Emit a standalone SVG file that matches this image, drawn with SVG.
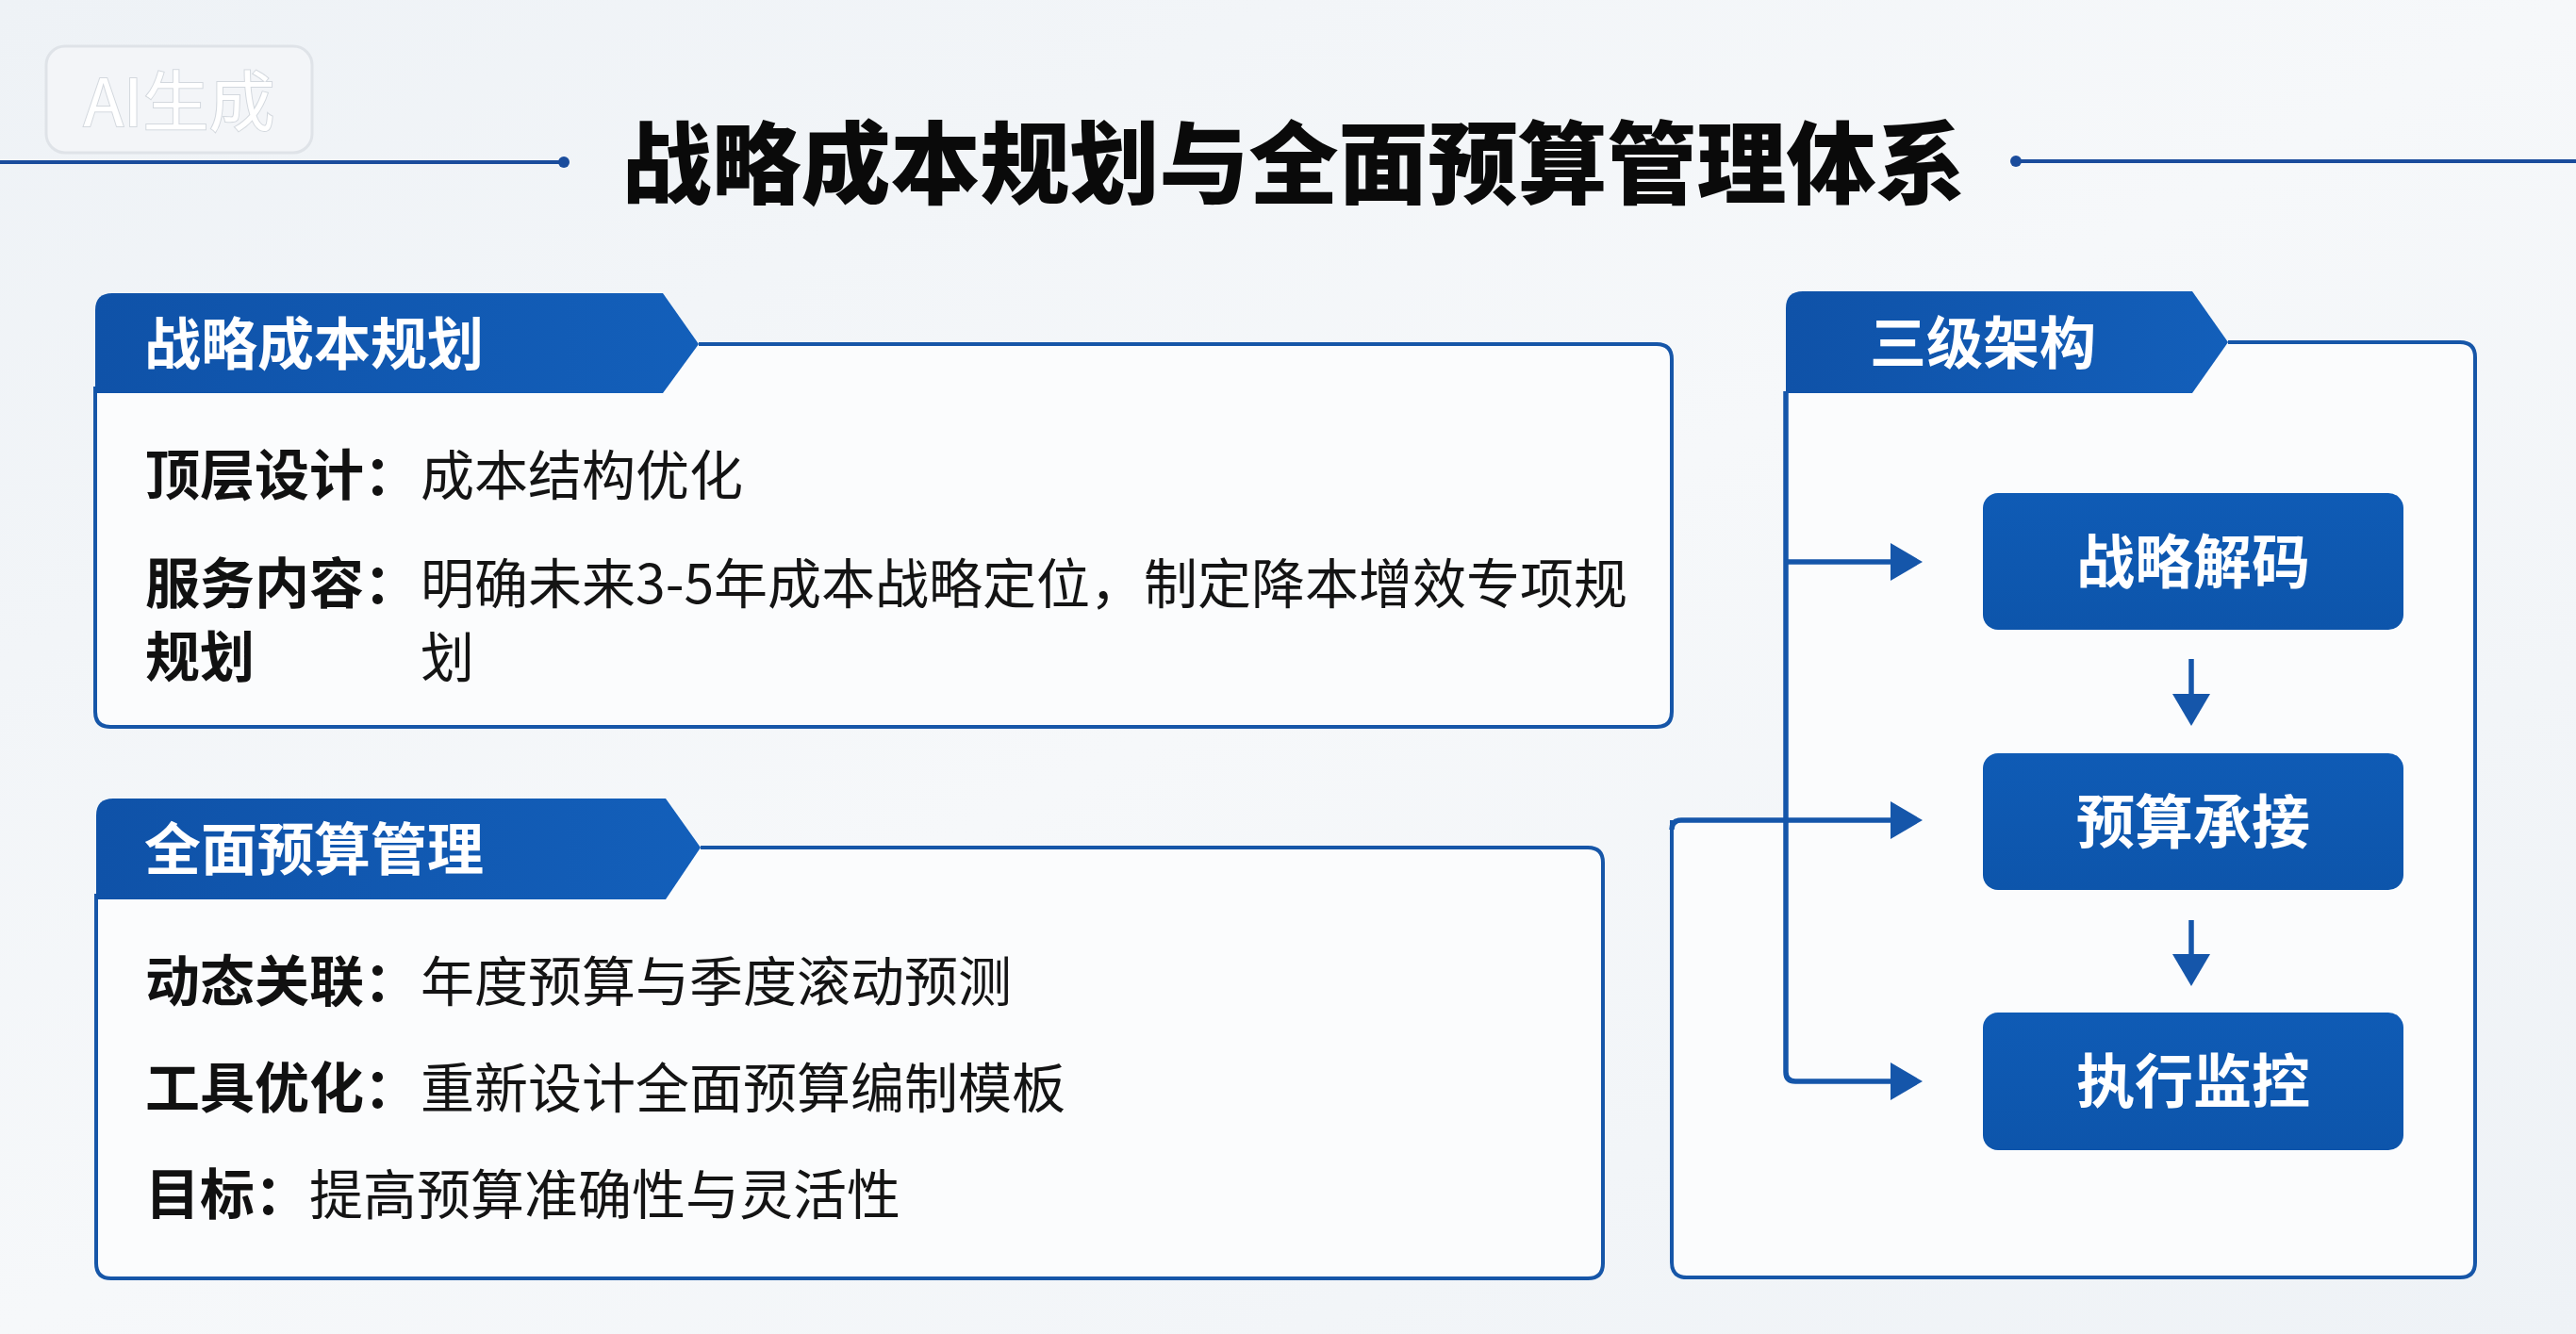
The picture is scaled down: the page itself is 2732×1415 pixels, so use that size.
<svg xmlns="http://www.w3.org/2000/svg" width="2732" height="1415" viewBox="0 0 2732 1415">
<defs>
<linearGradient id="bg" x1="0" y1="0" x2="1" y2="1">
<stop offset="0" stop-color="#eef2f6"/>
<stop offset="0.5" stop-color="#f6f8fa"/>
<stop offset="1" stop-color="#eef2f6"/>
</linearGradient>
<linearGradient id="tabg" x1="0" y1="0" x2="1" y2="0">
<stop offset="0" stop-color="#0f52a8"/>
<stop offset="1" stop-color="#135fba"/>
</linearGradient>
<linearGradient id="nodeg" x1="0" y1="0" x2="0" y2="1">
<stop offset="0" stop-color="#0f5bb5"/>
<stop offset="1" stop-color="#0d55ab"/>
</linearGradient>
<marker id="ah" markerUnits="userSpaceOnUse" markerWidth="40" markerHeight="42" viewBox="0 0 34 42" refX="24" refY="21" orient="auto">
<path d="M0,1 L34,21 L0,41 Z" fill="#1556aa"/>
</marker>
<style>
.cjk{font-family:"Noto Sans CJK SC","Noto Sans",sans-serif}
.title{font-size:95px;font-weight:900;fill:#0a0a0a}
.tabt{font-size:60px;font-weight:700;fill:#ffffff}
.lab{font-size:58px;font-weight:700;fill:#111111}
.txt{font-size:57px;font-weight:400;fill:#141414}
.node{font-size:62px;font-weight:700;fill:#ffffff}
.tab{fill:url(#tabg)}
.box{fill:none;stroke:#1656a8;stroke-width:4;stroke-linejoin:round}
.boxfill{fill:#fbfcfd}
.conn{fill:none;stroke:#1556aa;stroke-width:5.5;stroke-linejoin:round}
.nrect{fill:url(#nodeg)}
</style>
</defs>
<rect x="0" y="0" width="2732" height="1415" fill="url(#bg)"/>

<g id="watermark">
<rect x="49" y="49" width="282" height="113" rx="20" fill="#f3f5f8" stroke="#dfe3e8" stroke-width="3"/>
<text x="190" y="134" text-anchor="middle" class="cjk" font-size="70" fill="#ffffff" stroke="#d3d8de" stroke-width="2" paint-order="stroke">AI生成</text>
</g>

<g id="title">
<line x1="0" y1="172" x2="598" y2="172" stroke="#1a4c9c" stroke-width="4"/>
<circle cx="598" cy="172" r="6" fill="#1a4c9c"/>
<line x1="2138" y1="171" x2="2732" y2="171" stroke="#1a4c9c" stroke-width="4"/>
<circle cx="2138" cy="171" r="6" fill="#1a4c9c"/>
<text x="1372" y="209" text-anchor="middle" class="cjk title">战略成本规划与全面预算管理体系</text>
</g>

<g id="panel-strategic-cost">
<path class="boxfill" d="M101,331 Q101,311 121,311 L703,311 L741,365 L1757,365 Q1773,365 1773,381 L1773,755 Q1773,771 1757,771 L117,771 Q101,771 101,755 Z"/>
<path class="box" d="M741,365 L1757,365 Q1773,365 1773,381 L1773,755 Q1773,771 1757,771 L117,771 Q101,771 101,755 L101,410"/>
<path class="tab" d="M101,329 Q101,311 119,311 L703,311 L741,365 L703,417 L101,417 Z"/>
<text x="153" y="387" class="cjk tabt">战略成本规划</text>
<text x="154" y="525" class="cjk lab">顶层设计：</text>
<text x="446" y="525" class="cjk txt">成本结构优化</text>
<text x="154" y="640" class="cjk lab">服务内容：</text>
<text x="446" y="640" class="cjk txt">明确未来3-5年成本战略定位，制定降本增效专项规</text>
<text x="154" y="718" class="cjk lab">规划</text>
<text x="446" y="718" class="cjk txt">划</text>
</g>

<g id="panel-budget">
<path class="boxfill" d="M102,865 Q102,847 120,847 L706,847 L743,899 L1684,899 Q1700,899 1700,915 L1700,1340 Q1700,1356 1684,1356 L118,1356 Q102,1356 102,1340 Z"/>
<path class="box" d="M743,899 L1684,899 Q1700,899 1700,915 L1700,1340 Q1700,1356 1684,1356 L118,1356 Q102,1356 102,1340 L102,948"/>
<path class="tab" d="M102,865 Q102,847 120,847 L706,847 L743,899 L706,954 L102,954 Z"/>
<text x="153" y="923" class="cjk tabt">全面预算管理</text>
<text x="154" y="1062" class="cjk lab">动态关联：</text>
<text x="446" y="1062" class="cjk txt">年度预算与季度滚动预测</text>
<text x="154" y="1175" class="cjk lab">工具优化：</text>
<text x="446" y="1175" class="cjk txt">重新设计全面预算编制模板</text>
<text x="154" y="1288" class="cjk lab">目标：</text>
<text x="328" y="1288" class="cjk txt">提高预算准确性与灵活性</text>
</g>

<g id="panel-three-level">
<path class="boxfill" d="M1894,363 L2609,363 Q2625,363 2625,379 L2625,1339 Q2625,1355 2609,1355 L1789,1355 Q1773,1355 1773,1339 L1773,870 L1894,870 Z"/>
<path class="box" d="M2363,363 L2609,363 Q2625,363 2625,379 L2625,1339 Q2625,1355 2609,1355 L1789,1355 Q1773,1355 1773,1339 L1773,870"/>
<path class="tab" d="M1894,327 Q1894,309 1912,309 L2325,309 L2363,363 L2325,417 L1894,417 Z"/>
<text x="1983" y="386" class="cjk tabt">三级架构</text>
</g>

<g id="node-decode">
<rect class="nrect" x="2103" y="523" width="446" height="145" rx="16"/>
<text x="2326" y="619" text-anchor="middle" class="cjk node">战略解码</text>
</g>
<g id="node-budget">
<rect class="nrect" x="2103" y="799" width="446" height="145" rx="16"/>
<text x="2326" y="895" text-anchor="middle" class="cjk node">预算承接</text>
</g>
<g id="node-monitor">
<rect class="nrect" x="2103" y="1074" width="446" height="146" rx="16"/>
<text x="2326" y="1170" text-anchor="middle" class="cjk node">执行监控</text>
</g>

<g id="connectors">
<path class="conn" d="M1894,415 L1894,1137 Q1894,1147 1904,1147 L2029,1147" marker-end="url(#ah)"/>
<path class="conn" d="M1894,596 L2029,596" marker-end="url(#ah)"/>
<path class="conn" d="M1773,880 Q1773,870 1783,870 L2029,870" marker-end="url(#ah)"/>
<path class="conn" d="M2324,699 L2324,760" marker-end="url(#ah)"/>
<path class="conn" d="M2324,976 L2324,1036" marker-end="url(#ah)"/>
</g>
</svg>
